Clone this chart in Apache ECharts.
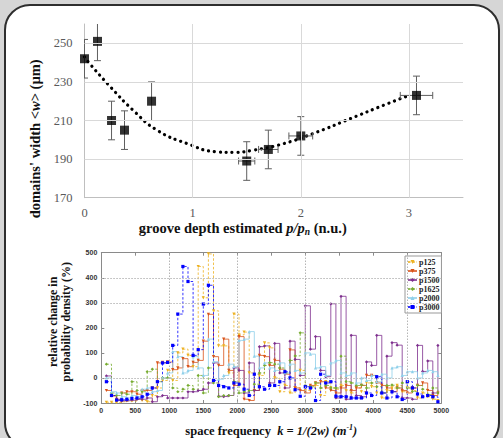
<!DOCTYPE html>
<html>
<head>
<meta charset="utf-8">
<script src="https://cdn.jsdelivr.net/npm/echarts/dist/echarts.min.js"></script>
<style>
  html, body { margin: 0; padding: 0; background: #d6d6d6; }
  #chart { width: 503px; height: 438px; }
</style>
</head>
<body>
<div id="chart"></div>
<script>
// ---- Upper panel: mean domain width vs. groove depth ----
const grooveDepth   = [0, 0.12, 0.25, 0.37, 0.62, 1.5, 1.7, 2.0, 3.07];
const domainWidth   = [242, 251, 210, 205, 220, 189, 195, 202, 223];
const widthErr      = [10, 10, 10, 10, 10, 10, 10, 10, 10];
const depthErr      = [0, 0, 0, 0, 0, 0.075, 0.09, 0.11, 0.15];
// dotted trend curve
const fitDepth = [0.0, 0.04, 0.24, 0.45, 0.67, 0.95, 1.22, 1.38, 1.56, 1.84, 2.15, 2.46, 2.77, 3.0];
const fitWidth = [243, 240, 227.4, 215.3, 205, 198, 193.8, 193.5, 194.6, 198, 204, 211, 218, 223];
const depthTicks = [0, 1, 2, 3];
const widthTicks = [170, 190, 210, 230, 250];

// ---- Lower panel: relative change in probability density ----
const kBins = [75,150,225,300,375,450,525,600,675,750,
  825,900,975,1050,1125,1200,1275,1350,1425,1500,
  1575,1650,1725,1800,1875,1950,2025,2100,2175,2250,
  2325,2400,2475,2550,2625,2700,2775,2850,2925,3000,
  3075,3150,3225,3300,3375,3450,3525,3600,3675,3750,
  3825,3900,3975,4050,4125,4200,4275,4350,4425,4500,
  4575,4650,4725,4800,4875,4950];
const p125 = [-97,-97,-98,-95,-92,-92,-85,-90,-95,-70,
  -40,-10,30,-10,100,115,90,45,445,320,
  495,268,128,128,20,255,172,183,20,-50,
  10,140,120,0,-55,-30,-60,-40,30,-50,
  -40,-30,-70,-15,-40,-45,-30,-50,-60,-40,
  -55,-20,-35,-60,-80,-50,-40,-30,-55,-40,
  -50,-80,-60,-75,-85,-90];
const p375 = [-50,-72,-85,-60,-55,-55,-65,-50,-50,-40,
  60,62,64,33,40,77,45,62,70,147,
  254,85,50,155,30,-30,165,-85,-90,-50,
  90,85,50,70,35,15,112,-40,-50,-60,
  -30,-20,-15,-40,-50,-60,-40,-30,-50,-40,
  -30,10,10,-20,-30,-40,-55,-40,-50,-60,
  -40,-30,-20,-50,-70,-60];
const p1500 = [8,-70,-90,-92,-90,-88,-85,-85,-80,-95,
  -75,-70,-80,-80,-80,-80,-55,-55,-50,-45,
  -20,60,-73,-75,-70,40,30,-60,60,-50,
  125,128,-20,138,20,-40,147,74,10,288,
  115,165,30,5,296,-80,326,-85,170,-70,
  -75,64,50,170,-60,87,141,131,-80,-80,
  -85,130,26,68,-60,130];
const p1625 = [55,-60,-70,-60,-65,-15,-50,-55,25,35,
  -15,0,0,-40,-55,-45,-30,-45,10,-60,
  40,-20,-75,-70,-70,-15,-60,-55,-50,-25,
  20,50,61,55,40,20,70,88,180,-30,
  -35,-20,-40,-30,-40,-40,87,-15,-20,-30,
  -28,-40,-20,-35,-60,-30,-28,-40,-20,-40,
  -54,-30,-45,-67,-40,-60];
const p2000 = [0,-55,-60,-75,-80,-70,-75,-45,-40,-55,
  -50,0,20,105,85,20,30,85,40,10,
  155,65,-5,10,55,45,150,155,185,87,
  40,60,40,30,60,20,55,30,20,100,
  95,40,45,10,60,70,20,10,20,-20,
  0,-10,10,-15,15,0,40,45,10,25,
  25,0,20,30,25,10];
const p3000 = [-15,-70,-88,-87,-85,-82,-80,-75,-65,-40,
  -15,60,62,130,255,445,385,90,113,295,
  370,-10,-30,-35,-40,-20,-25,-45,-70,15,
  -35,-45,-30,-30,-15,25,0,-47,-73,-35,
  -40,-90,15,-20,-15,-73,-75,-75,-80,-80,
  -80,-60,-70,5,-60,-80,-55,-75,-86,-15,
  -40,-64,-75,-70,-75,-95];
const kGrid = [1000, 2000, 3000, 4500];
const pctGrid = [0, 300, 400];

const serif = '"Liberation Serif", "Times New Roman", serif';
const sans = '"Liberation Sans", Arial, sans-serif';

const curves = [
  { name: 'p125',  data: p125,  color: '#EDB120', dashed: true,  symbol: 'triangle', rot: 180 },
  { name: 'p375',  data: p375,  color: '#D95319', dashed: false, symbol: 'triangle', rot: 180 },
  { name: 'p1500', data: p1500, color: '#7E2F8E', dashed: false, symbol: 'diamond',  rot: 0 },
  { name: 'p1625', data: p1625, color: '#77AC30', dashed: true,  symbol: 'diamond',  rot: 0 },
  { name: 'p2000', data: p2000, color: '#8fd0ea', dashed: false, symbol: 'triangle', rot: 0 },
  { name: 'p3000', data: p3000, color: '#0000FF', dashed: true,  symbol: 'rect',     rot: 0 }
];

const chart = echarts.init(document.getElementById('chart'), null, { renderer: 'svg' });

const stepSeries = curves.map(c => ({
  name: c.name,
  type: 'line',
  xAxisIndex: 1, yAxisIndex: 1,
  step: 'end',
  data: kBins.map((k, i) => [k, c.data[i]]),
  symbol: c.symbol,
  symbolRotate: c.rot,
  symbolSize: 3.2,
  showSymbol: true,
  color: c.color,
  lineStyle: { width: 1, color: c.color, type: c.dashed ? [2.5, 1.8] : 'solid', opacity: 0.8 },
  itemStyle: { color: c.color },
  emphasis: { disabled: true },
  animation: false,
  z: 3
}));

const titleRich = {
  b: { fontFamily: serif, fontWeight: 'bold', fontSize: 14.5, color: '#111' },
  i: { fontFamily: serif, fontWeight: 'bold', fontStyle: 'italic', fontSize: 14.5, color: '#111' },
  s: { fontFamily: serif, fontWeight: 'bold', fontStyle: 'italic', fontSize: 9.5, color: '#111', padding: [7, 0, 0, 0] }
};

const option = {
  backgroundColor: '#d6d6d6',
  animation: false,
  graphic: [{
    type: 'rect', z: -100, silent: true,
    shape: { x: 5, y: 5, width: 494, height: 443, r: 25 },
    style: { fill: '#ffffff', stroke: '#2e2e2e', lineWidth: 2 }
  }],
  grid: [
    { left: 84.5, right: 40, top: 24, bottom: 240.3 },
    { left: 101.3, right: 61.7, top: 252.7, bottom: 29 }
  ],
  legend: {
    data: curves.map(c => c.name),
    orient: 'vertical',
    left: 405, top: 256,
    padding: [2, 2, 2, 2],
    itemGap: 1,
    itemWidth: 9, itemHeight: 5,
    backgroundColor: '#fff',
    borderColor: '#999', borderWidth: 1, borderRadius: 0,
    textStyle: { fontFamily: serif, fontWeight: 'bold', fontSize: 8, color: '#222', lineHeight: 8, padding: [0, 0, 0, -3] }
  },
  xAxis: [
    {
      gridIndex: 0, type: 'value', min: 0, max: 3.5, interval: 0.5,
      axisLine: { show: true, lineStyle: { color: '#bfbfbf', width: 1 } },
      axisTick: { show: false },
      splitLine: { show: false },
      axisLabel: {
        margin: 9, color: '#595959', fontFamily: serif, fontSize: 12.5,
        formatter: v => depthTicks.includes(v) ? String(v) : ''
      },
      name: '{b|groove depth estimated }{i|p/p}{s|n}{b| (n.u.)}',
      nameLocation: 'middle', nameGap: 20,
      nameTextStyle: { padding: [0, 62, 0, 0], rich: titleRich }
    },
    {
      gridIndex: 1, type: 'value', min: 0, max: 5000, interval: 500,
      axisLine: { show: true, onZero: false, lineStyle: { color: '#8a8a8a', width: 1 } },
      axisTick: { show: true, inside: true, length: 3, lineStyle: { color: '#8a8a8a' } },
      splitLine: { show: false },
      axisLabel: { margin: 4, color: '#333', fontFamily: sans, fontWeight: 'bold', fontSize: 7, formatter: v => String(v) },
      name: '{b|space frequency  }{i|k = 1/(2w) (m}{u|-1}{i|)}',
      nameLocation: 'middle', nameGap: 20,
      nameTextStyle: {
        rich: {
          b: { fontFamily: serif, fontWeight: 'bold', fontSize: 12.5, color: '#111' },
          i: { fontFamily: serif, fontWeight: 'bold', fontStyle: 'italic', fontSize: 12.5, color: '#111' },
          u: { fontFamily: serif, fontWeight: 'bold', fontStyle: 'italic', fontSize: 8, color: '#111', padding: [0, 0, 7, 0] }
        }
      }
    },
    {
      gridIndex: 1, type: 'value', position: 'top', min: 0, max: 5000, interval: 500,
      axisLine: { show: true, onZero: false, lineStyle: { color: '#8a8a8a', width: 1 } },
      axisTick: { show: true, inside: true, length: 3, lineStyle: { color: '#8a8a8a' } },
      axisLabel: { show: false }, splitLine: { show: false }
    }
  ],
  yAxis: [
    {
      gridIndex: 0, type: 'value', min: 170, max: 260, interval: 10,
      axisLine: { show: true, lineStyle: { color: '#bfbfbf', width: 1 } },
      axisTick: { show: false },
      splitLine: { show: false },
      axisLabel: {
        margin: 12, color: '#595959', fontFamily: serif, fontSize: 12.5,
        formatter: v => widthTicks.includes(v) ? String(v) : ''
      },
      name: '{b|domains\' width <}{i|w}{b|> (µm)}',
      nameLocation: 'middle', nameGap: 34,
      nameTextStyle: { padding: [0, 56, 0, 0], rich: titleRich }
    },
    {
      gridIndex: 1, type: 'value', min: -100, max: 500, interval: 100,
      axisLine: { show: true, onZero: false, lineStyle: { color: '#8a8a8a', width: 1 } },
      axisTick: { show: true, inside: true, length: 3, lineStyle: { color: '#8a8a8a' } },
      splitLine: { show: false },
      axisLabel: { margin: 4, color: '#333', fontFamily: sans, fontWeight: 'bold', fontSize: 7, formatter: v => String(v) },
      name: 'relative change in\nprobability density (%)',
      nameLocation: 'middle', nameGap: 28,
      nameTextStyle: {
        fontFamily: serif, fontWeight: 'bold', fontSize: 12, lineHeight: 13, color: '#111',
        padding: [0, 0, 0, 12]
      }
    },
    {
      gridIndex: 1, type: 'value', position: 'right', min: -100, max: 500, interval: 100,
      axisLine: { show: true, onZero: false, lineStyle: { color: '#8a8a8a', width: 1 } },
      axisTick: { show: true, inside: true, length: 3, lineStyle: { color: '#8a8a8a' } },
      axisLabel: { show: false }, splitLine: { show: false }
    }
  ],
  series: [
    // upper gridlines
    {
      type: 'line', xAxisIndex: 0, yAxisIndex: 0, data: [], silent: true, z: 0,
      markLine: {
        silent: true, symbol: 'none', label: { show: false }, animation: false,
        lineStyle: { color: '#d9d9d9', type: 'solid', width: 1 },
        data: depthTicks.filter(v => v > 0).map(v => ({ xAxis: v }))
          .concat(widthTicks.filter(v => v > 170).map(v => ({ yAxis: v })))
      }
    },
    // dotted trend
    {
      type: 'line', xAxisIndex: 0, yAxisIndex: 0, smooth: true, showSymbol: false, silent: true, z: 2,
      data: fitDepth.map((x, i) => [x, fitWidth[i]]),
      lineStyle: { color: '#000', width: 3.2, type: [0.1, 5.8], cap: 'round' }
    },
    // error bars
    {
      type: 'custom', xAxisIndex: 0, yAxisIndex: 0, clip: true, silent: true, z: 3,
      data: grooveDepth.map((x, i) => [x, domainWidth[i], widthErr[i], depthErr[i]]),
      renderItem(params, api) {
        const x = api.value(0), y = api.value(1), ey = api.value(2), ex = api.value(3);
        const c = api.coord([x, y]);
        const t = api.coord([x, y + ey]);
        const b = api.coord([x, y - ey]);
        const st = { stroke: '#5f5f5f', lineWidth: 1 };
        const cap = 3.5;
        const kids = [
          { type: 'line', shape: { x1: c[0], y1: t[1], x2: c[0], y2: b[1] }, style: st },
          { type: 'line', shape: { x1: c[0] - cap, y1: t[1], x2: c[0] + cap, y2: t[1] }, style: st },
          { type: 'line', shape: { x1: c[0] - cap, y1: b[1], x2: c[0] + cap, y2: b[1] }, style: st }
        ];
        if (ex > 0) {
          const l = api.coord([x - ex, y]);
          const r = api.coord([x + ex, y]);
          kids.push(
            { type: 'line', shape: { x1: l[0], y1: c[1], x2: r[0], y2: c[1] }, style: st },
            { type: 'line', shape: { x1: l[0], y1: c[1] - cap, x2: l[0], y2: c[1] + cap }, style: st },
            { type: 'line', shape: { x1: r[0], y1: c[1] - cap, x2: r[0], y2: c[1] + cap }, style: st }
          );
        }
        return { type: 'group', children: kids };
      }
    },
    // measured points
    {
      type: 'scatter', xAxisIndex: 0, yAxisIndex: 0, z: 4, silent: true,
      symbol: 'rect', symbolSize: 9,
      itemStyle: { color: '#000' },
      data: grooveDepth.map((x, i) => [x, domainWidth[i]])
    },
    // lower dotted gridlines
    {
      type: 'line', xAxisIndex: 1, yAxisIndex: 1, data: [], silent: true, z: 1,
      markLine: {
        silent: true, symbol: 'none', label: { show: false }, animation: false,
        lineStyle: { color: '#b5b5b5', type: [1.5, 1.5], width: 1 },
        data: kGrid.map(v => ({ xAxis: v })).concat(pctGrid.map(v => ({ yAxis: v })))
      }
    }
  ].concat(stepSeries)
};

chart.setOption(option);
</script>
</body>
</html>
